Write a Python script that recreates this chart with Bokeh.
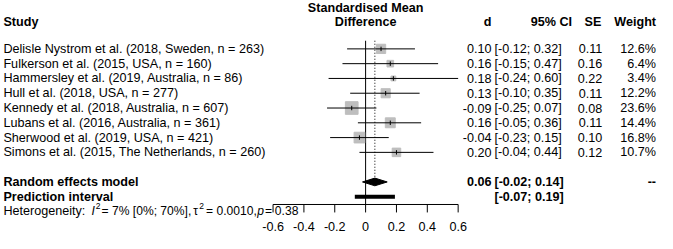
from bokeh.plotting import figure
from bokeh.models import Range1d, ColumnDataSource
from bokeh.core.properties import value
from bokeh.embed import file_html
from bokeh.resources import INLINE
import numpy as np

# ---------------- data ----------------
studies = [
    "Delisle Nystrom et al. (2018, Sweden, n = 263)",
    "Fulkerson et al. (2015, USA, n = 160)",
    "Hammersley et al. (2019, Australia, n = 86)",
    "Hull et al. (2018, USA, n = 277)",
    "Kennedy et al. (2018, Australia, n = 607)",
    "Lubans et al. (2016, Australia, n = 361)",
    "Sherwood et al. (2019, USA, n = 421)",
    "Simons et al. (2015, The Netherlands, n = 260)",
]
d_vals = [0.10, 0.16, 0.18, 0.13, -0.09, 0.16, -0.04, 0.20]
ci_lo = [-0.12, -0.15, -0.24, -0.10, -0.25, -0.05, -0.23, -0.04]
ci_hi = [0.32, 0.47, 0.60, 0.35, 0.07, 0.36, 0.15, 0.44]
se_vals = [0.11, 0.16, 0.22, 0.11, 0.08, 0.11, 0.10, 0.12]
weights = [12.6, 6.4, 3.4, 12.2, 23.6, 14.4, 16.8, 10.7]

pooled_d = 0.06
pooled_lo = -0.02
pooled_hi = 0.14
pred_lo = -0.07
pred_hi = 0.19

tick_vals = [-0.6, -0.4, -0.2, 0.0, 0.2, 0.4, 0.6]
tick_labels = ["-0.6", "-0.4", "-0.2", "0", "0.2", "0.4", "0.6"]

# ---------------- layout helpers (reference pixel space) ----------------
X0_PX, PX_PER_UNIT = 374.0, 158.0       # effect 0 position, px per unit
Y0_PX, PX_PER_ROW = 51.7, 15.8          # first row position, px per row
REF_W, REF_H = 673.0, 249.0

def px2x(px):
    return (px - X0_PX) / PX_PER_UNIT

def py2r(py):
    return (py - Y0_PX) / PX_PER_ROW

W, H = 657, 233
FS = "12.6px"
FS_HET = "12.1px"
FS_SUP = "8.5px"
FONT = value("Liberation Sans")

p = figure(width=W, height=H, output_backend="svg", toolbar_location=None,
           x_range=Range1d(px2x(0), px2x(REF_W)),
           y_range=Range1d(py2r(REF_H), py2r(0)),
           min_border=0, x_axis_location=None, y_axis_location=None)
p.outline_line_color = None
p.grid.visible = False
p.background_fill_color = "white"
p.border_fill_color = "white"

n = len(studies)
rows = list(range(n))
pooled_row = n + 1
pred_row = n + 2

# ---------------- reference lines ----------------
top_r = py2r(43)
axis_r = py2r(218)
p.segment(x0=[0], y0=[top_r], x1=[0], y1=[axis_r], line_color="black", line_width=1)
p.segment(x0=[pooled_d], y0=[top_r], x1=[pooled_d], y1=[pooled_row - 0.26],
          line_color="black", line_width=1, line_dash="1 2")

# ---------------- study squares + CIs ----------------
wmax = max(weights)
sizes = [12.7 * np.sqrt(w / wmax) for w in weights]
src = ColumnDataSource(dict(y=rows, d=d_vals, lo=ci_lo, hi=ci_hi, size=sizes,
                            ya=[r - 0.15 for r in rows], yb=[r + 0.15 for r in rows]))
p.scatter(x="d", y="y", size="size", marker="square", source=src,
          fill_color="#BEBEBE", line_color="#BEBEBE")
p.segment(x0="lo", y0="y", x1="hi", y1="y", source=src, line_color="black", line_width=1)
p.segment(x0="d", y0="ya", x1="d", y1="yb", source=src, line_color="black", line_width=1)

# ---------------- pooled diamond + prediction interval ----------------
hh = 0.26
p.patch(x=[pooled_lo, pooled_d, pooled_hi, pooled_d],
        y=[pooled_row, pooled_row - hh, pooled_row, pooled_row + hh],
        fill_color="black", line_color="black")
p.quad(left=[pred_lo], right=[pred_hi], bottom=[pred_row + 0.13], top=[pred_row - 0.13],
       fill_color="black", line_color=None)

# ---------------- x axis (drawn inside forest panel) ----------------
tick_end = py2r(226.5)
p.segment(x0=[tick_vals[0]], y0=[axis_r], x1=[tick_vals[-1]], y1=[axis_r], line_color="black")
p.segment(x0=tick_vals, y0=[axis_r] * len(tick_vals), x1=tick_vals, y1=[tick_end] * len(tick_vals),
          line_color="black")
p.text(x=tick_vals, y=[py2r(241.5)] * len(tick_vals), text=tick_labels,
       text_align="center", text_baseline="middle", text_font_size=FS, text_font=FONT)

# ---------------- headers ----------------
hdr_r = py2r(22.5)
p.text(x=[0], y=[py2r(8)], text=["Standardised Mean"], text_align="center",
       text_baseline="middle", text_font_size=FS, text_font_style="bold", text_font=FONT)
p.text(x=[0], y=[hdr_r], text=["Difference"], text_align="center",
       text_baseline="middle", text_font_size=FS, text_font_style="bold", text_font=FONT)
p.text(x=[px2x(3)], y=[hdr_r], text=["Study"], text_align="left",
       text_baseline="middle", text_font_size=FS, text_font_style="bold", text_font=FONT)
p.text(x=[px2x(503), px2x(585.5), px2x(615.5), px2x(671.5)], y=[hdr_r] * 4,
       text=["d", "95% CI", "SE", "Weight"], text_align="right",
       text_baseline="middle", text_font_size=FS, text_font_style="bold", text_font=FONT)

# ---------------- study rows text ----------------
p.text(x=[px2x(3)] * n, y=rows, text=studies, text_align="left", text_baseline="middle",
       text_font_size=FS, text_font=FONT)
p.text(x=[px2x(503)] * n, y=rows, text=[f"{v:.2f}" for v in d_vals], text_align="right",
       text_baseline="middle", text_font_size=FS, text_font=FONT)
p.text(x=[px2x(506)] * n, y=rows, text=[f"[{a:.2f}; {b:.2f}]" for a, b in zip(ci_lo, ci_hi)],
       text_align="left", text_baseline="middle", text_font_size=FS, text_font=FONT)
p.text(x=[px2x(616.5)] * n, y=rows, text=[f"{v:.2f}" for v in se_vals], text_align="right",
       text_baseline="middle", text_font_size=FS, text_font=FONT)
p.text(x=[px2x(671.5)] * n, y=rows, text=[f"{w:.1f}%" for w in weights], text_align="right",
       text_baseline="middle", text_font_size=FS, text_font=FONT)

# ---------------- pooled rows text ----------------
p.text(x=[px2x(3)] * 2, y=[pooled_row, pred_row],
       text=["Random effects model", "Prediction interval"], text_align="left",
       text_baseline="middle", text_font_size=FS, text_font_style="bold", text_font=FONT)
p.text(x=[px2x(503)], y=[pooled_row], text=[f"{pooled_d:.2f}"], text_align="right",
       text_baseline="middle", text_font_size=FS, text_font_style="bold", text_font=FONT)
p.text(x=[px2x(506)] * 2, y=[pooled_row, pred_row],
       text=[f"[{pooled_lo:.2f}; {pooled_hi:.2f}]", f"[{pred_lo:.2f}; {pred_hi:.2f}]"],
       text_align="left", text_baseline="middle", text_font_size=FS,
       text_font_style="bold", text_font=FONT)
p.text(x=[px2x(671.5)], y=[pooled_row], text=["--"], text_align="right",
       text_baseline="middle", text_font_size=FS, text_font_style="bold", text_font=FONT)

# ---------------- heterogeneity ----------------
het_r = py2r(224.5)
sup_r = py2r(219.5)
segs = [
    (3, het_r, "Heterogeneity:", "normal", FS),
    (93.3, het_r, "I", "italic", FS_HET),
    (97.6, sup_r, "2", "normal", FS_SUP),
    (103.5, het_r, "= 7% [0%; 70%],", "normal", FS_HET),
    (197.5, het_r, "\u03c4", "normal", FS_HET),
    (203.5, sup_r, "2", "normal", FS_SUP),
    (210.5, het_r, "= 0.0010,", "normal", FS_HET),
    (263.0, het_r, "p", "italic", FS_HET),
    (271.0, het_r, "=", "normal", FS_HET),
    (281.0, het_r, "0.38", "normal", FS_HET),
]
for px, yy, t, st, fs in segs:
    p.text(x=[px2x(px)], y=[yy], text=[t], text_align="left", text_baseline="middle",
           text_font_size=fs, text_font_style=st, text_font=FONT)

open("out.html", "w").write(file_html(p, INLINE))
